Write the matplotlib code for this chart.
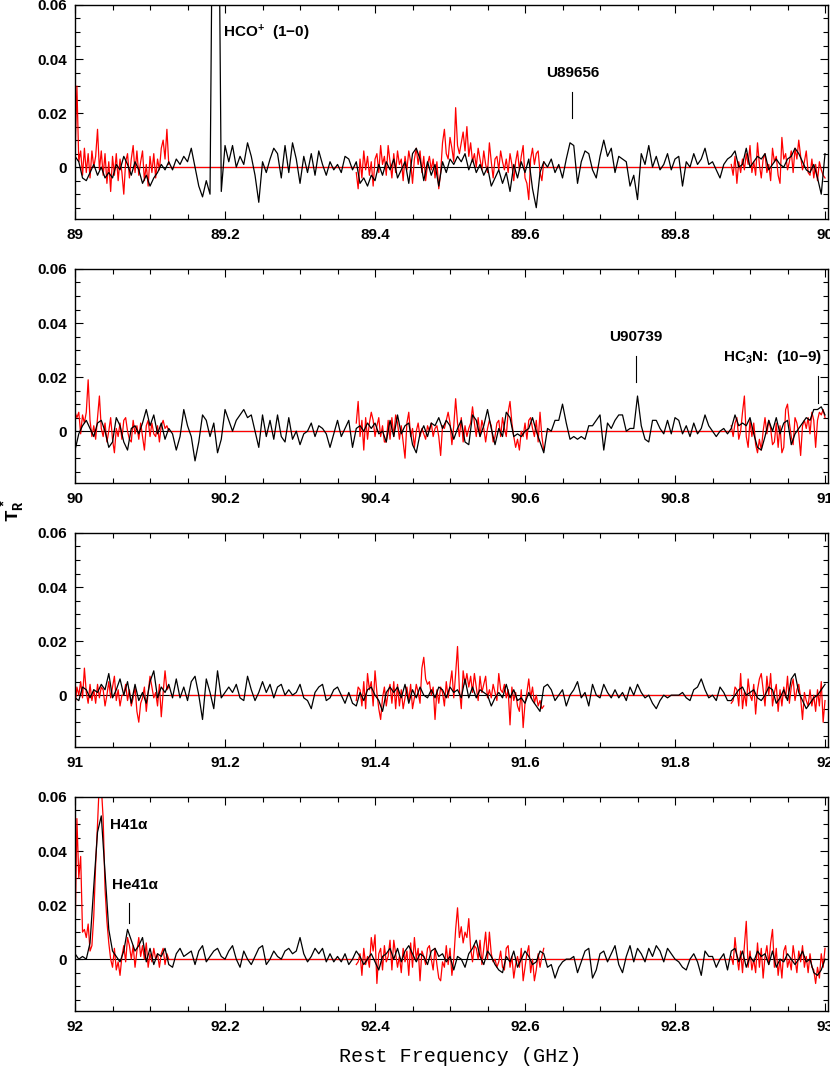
import numpy as np
import matplotlib
matplotlib.use("Agg")
import matplotlib.pyplot as plt
from matplotlib.ticker import MultipleLocator

# spectra, antenna temperature in mK
# black: one value every 5 MHz from the panel start (201 values)
# red: three pieces, one value every 2.5 MHz

black_89 = [4, 2, -4, -5, -2, 1, -3, 0, -4, -2,
            -4, 1, -1, 4, 1, -3, 2, -1, -6, -3,
            -7, -4, -2, 1, -1, 2, -1, 3, 1, 4,
            2, 7, 0, -7, -11, -5, -10, 160, 160, -9,
            8, 2, 8, 0, 4, 1, 9, 4, -3, -13,
            2, -2, 3, 7, 5, -4, 8, -2, 9, 3,
            -6, 4, -2, 5, -3, 6, 1, -3, 2, -1,
            1, -2, 4, 3, -1, 2, -6, -4, -7, -3,
            -5, 1, -3, 2, -1, 3, -4, -1, 2, -6,
            5, 7, 3, -5, 2, -3, 1, -7, 2, -2,
            3, 1, 4, 2, 5, -1, 3, -2, 1, -3,
            0, -7, -4, -1, -6, -2, -9, 1, -4, 2,
            -2, 3, -8, -15, -2, 2, 0, 3, -2, 1,
            -4, 3, 9, 8, -6, 2, 6, 5, -1, -4,
            4, 10, 4, 7, -2, 4, 3, 2, -7, -3,
            -12, 5, 1, 8, 0, 4, -1, 1, 5, -1,
            3, 4, -7, 2, 0, 5, 1, 3, 7, 1,
            2, -1, -4, 1, 3, 4, 6, 0, 1, 7,
            0, 2, 4, 3, 5, -1, 1, 3, 1, 0,
            3, 4, 7, 5, 2, -1, -2, 1, -4, -10,
            5]

black_90 = [-7, -1, 2, 4, 1, -2, 3, 4, 0, -6,
            -4, 5, 2, -4, -7, 1, 2, -1, 3, 8,
            2, 6, -1, 3, -3, 1, -1, -7, -2, 8,
            2, -2, -11, -4, 6, 4, -2, 3, -8, -3,
            8, 4, 0, 4, 6, 8, 5, 6, 0, -6,
            6, -2, 4, -3, 6, -2, -4, 5, -3, 0,
            -5, -1, 0, 3, -2, 2, 1, -1, -6, -1,
            4, -2, 1, 4, -6, 1, 2, 0, 3, 1,
            3, -1, 0, -4, 4, -2, 6, -1, 2, 3,
            -5, -8, -1, 2, -2, 3, 2, 5, 1, 4,
            2, -3, 1, 4, -4, -5, 6, 4, -2, 2,
            8, 1, -5, 1, -2, 7, 5, -2, -1, -2,
            0, 1, 5, 0, -4, -8, 1, 0, 4, 4,
            10, 3, -3, -2, -3, -2, -3, 2, 2, 4,
            6, -7, 3, 1, 4, 6, 6, 0, 1, 1,
            13, 2, -3, -4, 4, 4, 1, -1, 4, -1,
            5, 4, -1, 2, -2, 3, -1, 1, 6, 2,
            0, -2, 0, 1, -1, 1, 6, 2, 3, 2,
            5, -1, -6, -7, -2, 4, 0, 5, -1, 3,
            4, -5, -1, 1, 3, 5, 4, 8, 8, 9,
            6]

black_91 = [-1, -2, 3, 2, -1, 2, 1, 4, 2, 8,
            -1, 2, 6, 0, 5, -3, 4, -2, 1, -3,
            5, 9, -1, 3, 1, 4, -1, 6, -1, 3,
            -2, 5, 7, 0, -9, 6, 1, -5, 9, -1,
            1, 3, 1, 4, -1, -2, 7, 2, -2, 1,
            5, 1, 4, -1, 3, 4, 0, 2, 0, 1,
            4, -1, -2, -5, 1, 3, 4, -2, -1, 2,
            3, 0, -3, 1, -3, -4, 1, -2, 2, 3,
            0, -2, -6, 1, 3, 1, 3, -1, 4, -3,
            2, -1, 3, 0, -1, 2, -1, 3, 2, -1,
            3, 1, 2, -1, 6, -1, 3, -1, 2, 1,
            0, -4, -1, 1, -1, 4, -1, 2, -2, -1,
            -3, 1, -2, -4, -6, 3, 4, 2, -2, 0,
            2, -4, 0, 2, 5, -1, 1, -4, 4, 0,
            -1, 4, 1, -1, 2, -1, 1, -2, 3, 0,
            4, 1, -1, 0, -3, -5, -2, 0, -1, 0,
            0, 0, 1, -1, -2, 2, 3, 6, 2, -1,
            0, -2, 3, 1, -2, -2, 0, 2, 3, 0,
            1, 2, -1, -2, 0, 3, 2, -3, -1, 2,
            -2, 6, 8, 1, -2, -5, -3, -1, 0, 2,
            4]

black_92 = [2, 0, 1, 0, 6, 27, 47, 53, 32, 11,
            3, 1, -1, 3, 11, 7, 3, 5, 8, -1,
            4, -2, 2, 1, 4, -2, -3, 2, 4, 1,
            2, 3, -2, 3, 5, -1, 1, 3, 4, 1,
            0, 3, 5, 0, -3, 3, 0, -2, 1, 4,
            5, -2, 0, 3, 1, 0, 3, 4, 2, 3,
            8, 2, -1, 1, 4, 2, 4, -1, 2, -1,
            1, -1, 2, -2, 0, 3, 1, -2, 0, 2,
            -1, -4, 1, 2, 4, 0, 4, -1, 3, 5,
            2, -1, 2, 1, -2, 3, 4, 1, 2, -1,
            1, -4, 1, 0, -3, 2, 4, 7, 1, -2,
            3, 1, -2, -4, -5, 1, -1, 3, -3, 0,
            3, 1, -2, -1, 3, 2, -3, -2, -7, -3,
            -1, 0, 0, 1, -5, -1, 3, 4, -7, -4,
            2, 3, -1, 2, 5, -2, -5, 1, 5, -1,
            4, 2, -1, 4, 1, 5, 3, -1, 4, 2,
            0, -1, -3, -4, 0, 2, -1, -6, 3, 1,
            1, -3, 0, 2, -4, 3, 4, -1, 3, -3,
            1, -1, 3, 1, 2, -2, 3, -3, 0, -1,
            2, 0, -2, 0, 3, -1, 0, -5, -6, -4,
            0]

red_89_a = [3, 30, 2, 6, -3, 7, -2, 5, -4, 6, 0, 4, 14, -1, 6, -3, 5, -6,
            2, -9, 4, -3, 5, -5, 3, -2, -10, 2, 5, -4, 3, 8, -2, 6, -3, 2,
            6, -5, 1, -7, 4, -2, 5, -4, 3, -1, 7, 10, 3, 14, 1]
red_89_b = [-2, -8, 3, -4, 6, -1, 4, -3, 2, -7, 3, 5, -2, 8, 1, 4, -3, 8,
            2, -4, 5, -2, 6, 1, 3, -5, 4, -1, 6, 2, -6, 3, 7, 1, 6, -2, 4,
            -5, 1, 4, -1, 3, -4, 2, -8, -2, 9, 14, 5, 3, 11, 7, 2, 22, 8, 5,
            9, 13, 6, 15, 4, 9, 2, 5, 0, 7, 3, -1, 6, 1, -2, 9, 2, -4, 3, 4,
            -1, 6, 2, -1, 3, -2, 5, 1, -5, 2, 6, -1, 4, 8, -4, -6, -12, 3,
            7, 1, 5, 6, -2, -5, 2]
red_89_c = [1, -3, 4, -6, 2, -2, 3, -1, 5, 1, 8, -2, 2, -3, 9, 1, -4, 3,
            5, -2, 1, -5, 7, 2, 4, -3, -6, 11, 3, 5, -1, 2, 6, -2, 7, 3,
            10, 4, -1, 2, 6, -2, -3, 3, -4, 1, -5, 2, -1, -3, -4]

red_90_a = [7, 5, 7, -1, 6, 3, 7, 19, 4, -2, 2, -3, 5, 13, 1, -2, 3, -4,
            0, 5, -3, -8, 1, -2, 3, -3, 4, 5, 0, -3, -4, 4, -1, 2, -3, 3,
            -2, -7, 2, 4, -2, 3, -1, -2, 2, -4, 2, 4, 1, 2, 0]
red_90_b = [3, 11, -2, 4, -7, 5, -3, 3, 7, 4, -2, 2, 5, -2, 2, -4, -4, 4,
            -3, 5, -2, 6, 3, -3, 2, -4, -10, 3, 7, -2, 1, -6, 0, 3, -2, 1,
            -1, -3, 2, 0, 3, -2, 1, 2, -2, -9, 2, 1, 4, 7, 3, -5, 2, 12, 3,
            -2, 5, -4, 2, -2, 1, 3, 9, 3, -2, 5, -2, 4, 1, -4, 1, 4, 2, -4,
            -2, 3, 4, -2, 5, 1, -2, 7, 11, 3, -2, -6, -3, -7, 0, -2, 3, -3,
            4, 5, 1, -2, 4, -4, 7, -2, -7]
red_90_c = [2, -2, 3, 5, -3, 0, 7, 13, -2, -6, 4, -2, 3, -5, -8, -3, -7, 0,
            5, -1, 4, 1, -5, -4, 3, -6, 2, -8, -6, 8, 10, 3, -2, -5, 5, 3,
            -1, -9, 2, 4, 1, 5, -1, 7, 4, -6, 4, 7, 6, 8, 5]

red_91_a = [-4, 3, 0, 5, -1, 10, 1, -3, 4, -2, 2, -3, 4, -1, 3, 2, -4, 0,
            5, -1, 3, 7, -2, 2, -4, 0, 0, 4, -2, 2, -4, -1, 3, -6, -10, -3,
            -1, 3, -6, 1, 7, 3, -1, 1, -4, 4, -8, 1, 9, 2, 3]
red_91_b = [-2, 3, 2, -4, 5, -5, 8, 2, 5, -4, 9, 1, -5, -9, -1, 3, -4, 1,
            4, -3, 5, -5, 4, -4, 2, -5, -1, 3, -2, 4, -5, -1, 4, 1, -3, 10,
            14, 6, 4, 5, 0, 3, -9, 2, -3, 3, 1, -4, 5, -1, 4, 9, -1, 8, 18,
            2, -5, 9, 4, 8, 3, 7, 1, 8, 3, -2, 7, 1, 4, 7, -1, 2, -1, 4, 1,
            -2, 8, 2, 1, 4, -1, 2, -11, 3, -2, 1, -4, -6, 2, -12, -3, 1, 6,
            -1, 3, -3, 0, -4, -2, -5, -4]
red_91_c = [-3, -2, 3, 2, -4, 8, -5, 1, -4, 6, 0, -2, 4, -7, 2, 6, 8, 2,
            -4, 7, 0, 8, -4, 1, 4, -6, 2, -4, 3, -1, 7, -3, 3, 6, -2, 2, 4,
            -1, -9, 1, -2, -4, 2, -4, 0, -6, 2, -4, 5, -10, -2]

red_92_a = [8, 52, 30, 38, 10, 11, 8, 13, 3, 5, 16, 35, 50, 66, 64, 52, 26,
            14, 6, 0, -3, 4, -4, -1, -6, 1, 5, -1, 8, 5, 0, 5, -3, 3, 8, 1,
            5, 0, 6, -3, 2, -1, 4, 0, 2, -3, 2, 4, -2, 2, 0]
red_92_b = [-2, -1, 2, -6, 4, -2, 1, -3, 8, 3, 9, -9, 2, 4, -4, 5, -1, 1,
            7, -4, 7, 2, -3, 1, -5, 4, -1, 3, -6, 6, -3, 8, 0, 4, -8, 3, 1,
            -2, 4, 5, 0, -4, 4, -2, -7, -8, -1, -3, 5, -2, 4, -6, 0, 11, 19,
            8, 12, 6, 10, 8, 15, 4, -1, 5, 4, 0, 7, -2, 4, 10, 0, 10, 2, -1,
            0, -3, -1, 3, -3, -4, 4, 5, -3, 1, -7, -2, 1, -3, 4, -8, -3, 2,
            5, -5, 0, -8, -4, 2, -3, 1, 4]
red_92_c = [1, -2, 8, 1, -4, 3, -5, 5, 14, -3, 3, -4, 0, -5, 6, -3, 4, -7,
            1, 5, -2, 6, 11, -3, 4, -6, 0, -7, 3, 5, -3, 0, -4, 5, 0, -5, 3,
            -1, 5, -3, 1, -5, 2, -3, -4, -9, -3, -7, 2, -3, 4]

panel_starts = [89.0, 90.0, 91.0, 92.0]
black_data = [black_89, black_90, black_91, black_92]
red_data = [[red_89_a, red_89_b, red_89_c],
            [red_90_a, red_90_b, red_90_c],
            [red_91_a, red_91_b, red_91_c],
            [red_92_a, red_92_b, red_92_c]]
red_offsets = [0.0, 0.375, 0.875]
black_step = 0.005
red_step = 0.0025

# line identifications: (panel, text, x, y, ha) and tick marks (panel, x, y0, y1)
line_labels = [(0, r'HCO$^{+}$  (1$-$0)', 89.197, 0.0496, 'left'),
               (0, 'U89656', 89.663, 0.0348, 'center'),
               (1, 'U90739', 90.7476, 0.0349, 'center'),
               (1, r'HC$_{3}$N:  (10$-$9)', 90.9956, 0.0275, 'right'),
               (3, 'H41\u03b1', 92.0467, 0.0496, 'left'),
               (3, 'He41\u03b1', 92.0493, 0.0274, 'left')]
line_marks = [(0, 89.663, 0.0182, 0.0278),
              (1, 90.7476, 0.0182, 0.0278),
              (1, 90.990, 0.0104, 0.0204),
              (3, 92.072, 0.0133, 0.0207)]

plt.rcParams['mathtext.fontset'] = 'custom'
plt.rcParams['mathtext.rm'] = 'Liberation Sans:bold'
plt.rcParams['mathtext.it'] = 'Liberation Sans:bold'
plt.rcParams['mathtext.bf'] = 'Liberation Sans:bold'

tick_font = dict(family='Liberation Sans', weight='bold', size=11)

fig = plt.figure(figsize=(8.3, 10.78), dpi=100)

bottoms = [0.7973, 0.5524, 0.3075, 0.0626]
axes = []
for i, lo in enumerate(panel_starts):
    ax = fig.add_axes([0.0904, bottoms[i], 0.9072, 0.1981])
    axes.append(ax)

    ax.axhline(0, color='k', lw=0.8, zorder=1)

    # red spectrum pieces, zero baseline in red between them
    for off, vals in zip(red_offsets, red_data[i]):
        f = lo + off + red_step * np.arange(len(vals))
        ax.plot(f, np.array(vals) / 1000.0, color='red', lw=0.9, zorder=2)
    ax.hlines([0, 0], [lo + 0.125, lo + 0.625], [lo + 0.375, lo + 0.875],
              color='red', lw=0.9, zorder=2)

    fb = lo + black_step * np.arange(len(black_data[i]))
    ax.plot(fb, np.array(black_data[i]) / 1000.0, color='k', lw=0.9, zorder=3)

    ax.set_xlim(lo, lo + 1.004)
    ax.set_ylim(-0.019, 0.06)

    xt = [round(lo + 0.2 * k, 1) for k in range(6)]
    ax.set_xticks(xt)
    ax.set_xticklabels(['%g' % v for v in xt], **tick_font)
    ax.xaxis.set_minor_locator(MultipleLocator(0.05))
    yt = [0, 0.02, 0.04, 0.06]
    ax.set_yticks(yt)
    ax.set_yticklabels(['%g' % v for v in yt], **tick_font)
    ax.yaxis.set_minor_locator(MultipleLocator(0.005))

    ax.tick_params(which='both', direction='in', top=True, right=True,
                   width=0.8, color='k')
    ax.tick_params(which='major', length=6)
    ax.tick_params(which='minor', length=3.5)
    ax.tick_params(axis='x', which='major', pad=7)
    ax.tick_params(axis='y', which='major', pad=6)
    for s in ax.spines.values():
        s.set_linewidth(1.0)

for p, text, x, y, ha in line_labels:
    axes[p].text(x, y, text, ha=ha, va='center', family='Liberation Sans',
                 weight='bold', size=11)
for p, x, y0, y1 in line_marks:
    axes[p].plot([x, x], [y0, y1], color='k', lw=0.8)

fig.text(460 / 830, 1 - 1057 / 1078, 'Rest Frequency (GHz)', ha='center',
         va='center', family='Liberation Mono', size=14.5)
fig.text(13 / 830, 1 - 510 / 1078, r'$\mathregular{T_R^*}$', rotation=90,
         ha='center', va='center', family='Liberation Mono', weight='bold',
         size=14)

fig.savefig('out.png', dpi=100)
